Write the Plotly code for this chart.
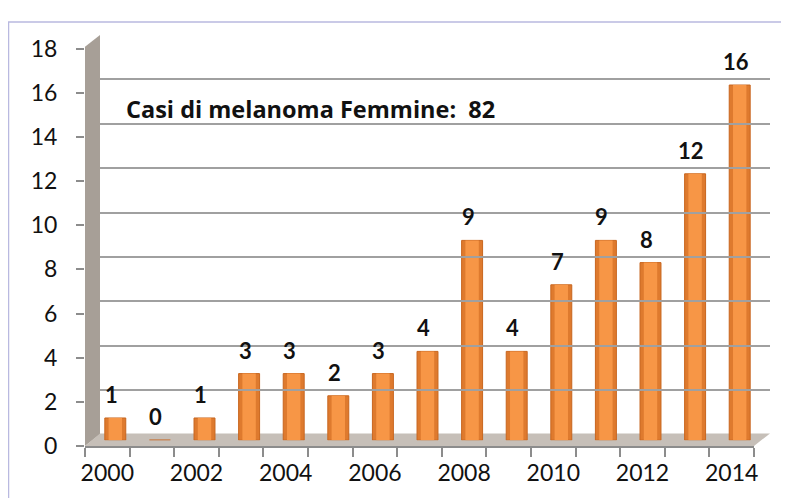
import plotly.graph_objects as go

# ---- data ----
years = list(range(2000, 2015))
cases = [1, 0, 1, 3, 3, 2, 3, 4, 9, 4, 7, 9, 8, 12, 16]
tick_years = [2000, 2002, 2004, 2006, 2008, 2010, 2012, 2014]
y_ticks = [0, 2, 4, 6, 8, 10, 12, 14, 16, 18]
title_text = "Casi di melanoma Femmine:&nbsp;&nbsp;82"

# ---- pixel geometry helpers (page pixels; page body has an 8px margin) ----
OFF = 8
W, H = 789 - OFF, 498 - OFF
L, R, T, B = 85, 770, 26, 450          # plot area in page pixels
PW, PH = R - L, B - T


def fx(px):
    return (px - L) / PW


def fy(py):
    return (B - py) / PH


FONT = "Lato, 'Open Sans', sans-serif"
TFONT = "'Open Sans', Lato, sans-serif"
ORANGE = "#F79646"
ORANGE_DARK = "#DE7A2E"
WALL = "#A79F97"
FLOOR = "#C6BFB8"
GRID = "#A0A0A0"
TXT = "#111111"

fig = go.Figure()

# bars (shifted depth axis): darker outer body + lighter centre for a cylinder look
fig.add_trace(go.Bar(
    x=years, y=cases, width=0.47,
    marker=dict(color=ORANGE_DARK, line=dict(color="#C8661F", width=1)),
    xaxis="x2", yaxis="y2", hoverinfo="x+y", showlegend=False,
))
fig.add_trace(go.Bar(
    x=years, y=cases, width=0.3,
    marker=dict(color=ORANGE, line=dict(width=0)),
    xaxis="x2", yaxis="y2", hoverinfo="skip", showlegend=False,
))

# value labels
for yr, v in zip(years, cases):
    fig.add_annotation(
        x=yr, y=v, xref="x2", yref="y2", text=f"<b>{v}</b>",
        showarrow=False, yanchor="bottom", yshift=8, xshift=-4,
        font=dict(family=FONT, size=22, color=TXT),
    )

# title text inside plot
fig.add_annotation(
    x=fx(124), y=fy(102), xref="paper", yref="paper", xanchor="left",
    yanchor="middle", text=f"<b>{title_text}</b>", showarrow=False,
    font=dict(family=TFONT, size=23.5, color=TXT),
)

# 3D-ish walls / floor
wall_path = (f"M {fx(85)},{fy(450)} L {fx(85)},{fy(38)} L {fx(100)},{fy(26)} "
             f"L {fx(100)},{fy(438)} Z")
floor_path = (f"M {fx(85)},{fy(450)} L {fx(754)},{fy(450)} L {fx(770)},{fy(437)} "
              f"L {fx(100)},{fy(437)} Z")
fig.add_shape(type="path", path=wall_path, xref="paper", yref="paper",
              fillcolor=WALL, line=dict(width=0), layer="between")
fig.add_shape(type="path", path=floor_path, xref="paper", yref="paper",
              fillcolor=FLOOR, line=dict(width=0), layer="between")
# outer frame
fig.add_shape(type="rect", xref="paper", yref="paper",
              x0=fx(8.5), y0=fy(12.5), x1=fx(800), y1=fy(520),
              line=dict(color="#B9B9E0", width=1.5), fillcolor="rgba(0,0,0,0)",
              layer="below")

fig.update_layout(
    width=W, height=H,
    margin=dict(l=L - OFF, r=789 - R, t=T - OFF, b=498 - B),
    paper_bgcolor="white", plot_bgcolor="rgba(0,0,0,0)",
    barmode="overlay",
    font=dict(family=FONT, size=23, color=TXT),
    # label axes
    xaxis=dict(
        domain=[0, fx(754)], range=[1999.5, 2014.5],
        tickvals=tick_years, ticktext=[str(t) for t in tick_years],
        ticks="", showgrid=False, zeroline=False,
        showline=True, linecolor="#8c8c8c", linewidth=1.5,
        minor=dict(tick0=1999.5, dtick=1, ticks="outside", ticklen=9,
                   tickcolor="#8c8c8c", tickwidth=1.5, showgrid=False),
        tickfont=dict(family=FONT, size=23, color=TXT),
        ticklabelstandoff=6, anchor="y",
    ),
    yaxis=dict(
        domain=[0, fy(40)], range=[0, 18], tickvals=y_ticks,
        ticks="outside", ticklen=8, tickcolor="#8c8c8c", tickwidth=1.5,
        showgrid=False, zeroline=False, showline=False,
        tickfont=dict(family=FONT, size=23, color=TXT),
        ticklabelstandoff=14, anchor="x",
    ),
    # bar axes
    xaxis2=dict(domain=[fx(93), fx(762)], range=[1999.5, 2014.5],
                visible=False, anchor="y2"),
    yaxis2=dict(domain=[fy(444), fy(444 - 18 * 22.9)], range=[0, 18],
                visible=False, anchor="x2"),
    # gridline axes (back wall)
    xaxis3=dict(domain=[fx(100), 1], range=[0, 1], visible=False, anchor="y3"),
    yaxis3=dict(domain=[fy(438), 1], range=[0, 18], dtick=2,
                showgrid=True, gridcolor=GRID, gridwidth=2,
                showticklabels=False, ticks="", zeroline=False, anchor="x3"),
)

# invisible trace to activate gridline axes
fig.add_trace(go.Scatter(x=[0, 1], y=[0, 0], xaxis="x3", yaxis="y3",
                         mode="lines", line=dict(width=0), hoverinfo="skip",
                         showlegend=False))
# invisible trace on label axes
fig.add_trace(go.Scatter(x=[2000], y=[0], mode="markers", marker=dict(opacity=0),
                         hoverinfo="skip", showlegend=False))

fig.write_html("out.html")
